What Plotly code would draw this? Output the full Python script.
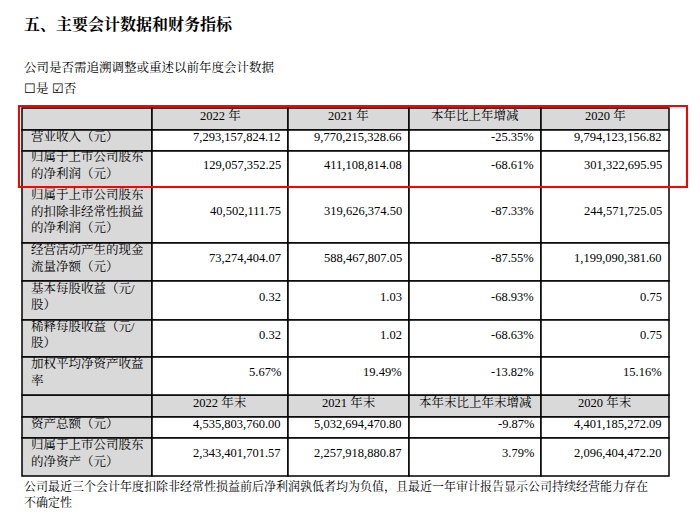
import plotly.graph_objects as go

title = "五、主要会计数据和财务指标"
subtitle = "公司是否需追溯调整或重述以前年度会计数据"
checkbox = "☐是 ☑否"
footer = ["公司最近三个会计年度扣除非经常性损益前后净利润孰低者均为负值，且最近一年审计报告显示公司持续经营能力存在",
          "不确定性"]

header1 = ["", "2022 年", "2021 年", "本年比上年增减", "2020 年"]
header2 = ["", "2022 年末", "2021 年末", "本年末比上年末增减", "2020 年末"]

labels = [
    ["营业收入（元）"],
    ["归属于上市公司股东", "的净利润（元）"],
    ["归属于上市公司股东", "的扣除非经常性损益", "的净利润（元）"],
    ["经营活动产生的现金", "流量净额（元）"],
    ["基本每股收益（元/", "股）"],
    ["稀释每股收益（元/", "股）"],
    ["加权平均净资产收益", "率"],
    None,
    ["资产总额（元）"],
    ["归属于上市公司股东", "的净资产（元）"],
]
col_2022 = ["7,293,157,824.12", "129,057,352.25", "40,502,111.75", "73,274,404.07", "0.32", "0.32", "5.67%",
            None, "4,535,803,760.00", "2,343,401,701.57"]
col_2021 = ["9,770,215,328.66", "411,108,814.08", "319,626,374.50", "588,467,807.05", "1.03", "1.02", "19.49%",
            None, "5,032,694,470.80", "2,257,918,880.87"]
col_change = ["-25.35%", "-68.61%", "-87.33%", "-87.55%", "-68.93%", "-68.63%", "-13.82%",
              None, "-9.87%", "3.79%"]
col_2020 = ["9,794,123,156.82", "301,322,695.95", "244,571,725.05", "1,199,090,381.60", "0.75", "0.75", "15.16%",
            None, "4,401,185,272.09", "2,096,404,472.20"]

col_x = [14, 144, 280, 401, 533, 661]
row_y = [100, 122, 143, 179, 235, 273, 312, 349, 387, 409, 430, 468]

FONT = "Liberation Serif, Noto Serif CJK SC, Noto Sans CJK SC"
GRAY = "#d9d9d9"

shapes = []
ann = []

def cell(x0, x1, y0, y1, fill):
    shapes.append(dict(type="rect", xref="x", yref="y", x0=x0, x1=x1, y0=y0, y1=y1,
                       fillcolor=fill, line=dict(color="black", width=1.5), layer="below"))

def text(x, y, s, anchor="left", size=12.5, bold=False):
    ann.append(dict(xref="x", yref="y", x=x, y=y, text=f"<b>{s}</b>" if bold else s, showarrow=False,
                    xanchor=anchor, yanchor="middle", yshift=4,
                    font=dict(family=FONT, size=size, color="black")))

# header rows
for hdr, r in [(header1, 0), (header2, 8)]:
    y0, y1 = row_y[r], row_y[r + 1]
    for c in range(5):
        cell(col_x[c], col_x[c + 1], y0, y1, GRAY)
        if hdr[c]:
            text((col_x[c] + col_x[c + 1]) / 2, (y0 + y1) / 2, hdr[c], anchor="center")

# data rows
cols = [col_2022, col_2021, col_change, col_2020]
for i, lab in enumerate(labels):
    if lab is None:
        continue
    r = i + 1
    y0, y1 = row_y[r], row_y[r + 1]
    cell(col_x[0], col_x[1], y0, y1, GRAY)
    n = len(lab)
    mid = (y0 + y1) / 2
    for k, line in enumerate(lab):
        text(col_x[0] + 7, mid + (k - (n - 1) / 2) * 16.5, line)
    for c in range(4):
        cell(col_x[c + 1], col_x[c + 2], y0, y1, "white")
        text(col_x[c + 2] - 5, mid, cols[c][i], anchor="right")

# red highlight box
shapes.append(dict(type="rect", xref="x", yref="y", x0=11, x1=679, y0=98, y1=179,
                   line=dict(color="red", width=2), fillcolor="rgba(0,0,0,0)"))

text(14, 20, title, size=16, bold=True)
text(14, 63, subtitle)
text(14, 85, checkbox)
text(14, 482, footer[0], size=12)
text(14, 498, footer[1], size=12)

fig = go.Figure()
fig.update_layout(width=700, height=512, margin=dict(l=0, r=0, t=0, b=0),
                  plot_bgcolor="white", paper_bgcolor="white",
                  shapes=shapes, annotations=ann, showlegend=False,
                  xaxis=dict(range=[0, 700], visible=False, fixedrange=True),
                  yaxis=dict(range=[512, 0], visible=False, fixedrange=True))
fig.write_html("out.html")
